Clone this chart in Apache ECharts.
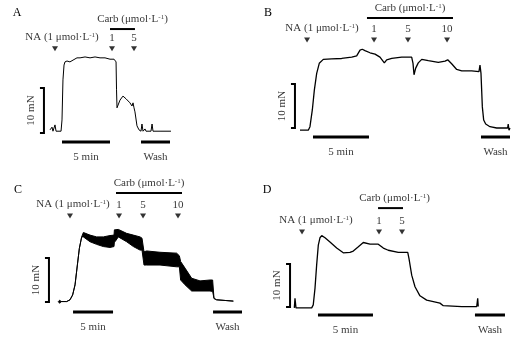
<!DOCTYPE html>
<html>
<head>
<meta charset="utf-8">
<script src="https://cdn.jsdelivr.net/npm/echarts@6/dist/echarts.min.js"></script>
<style>
  html, body { margin: 0; padding: 0; background: #fff; }
  #chart { width: 519px; height: 338px; }
</style>
</head>
<body>
<div id="chart"></div>
<script>
// time in min, tension in mN
const aTime = [0, 0.21, 0.31, 0.52, 0.63, 0.83, 1.15, 1.25, 1.35, 1.46, 1.56, 1.77, 2.08, 2.40, 2.81, 3.13, 3.65, 4.17, 4.69, 5.21, 5.73, 6.25, 6.67, 6.77, 6.88, 6.93, 6.98, 7.08, 7.29, 7.60, 7.92, 8.33, 8.54, 8.65, 8.75, 8.85, 9.06, 9.27, 9.48, 9.58, 9.69, 9.90, 10.0, 10.52, 10.63, 10.73, 11.46, 12.6];
const aForce = [0.7, 1.3, 0.4, 1.8, 0.4, 0.4, 0.4, 2.9, 11.8, 15.1, 15.8, 16.0, 15.8, 16.2, 16.7, 16.7, 16.9, 16.7, 16.9, 16.7, 16.7, 16.4, 16.4, 16.7, 15.8, 9.6, 5.6, 6.0, 7.3, 8.2, 7.6, 6.7, 6.0, 6.7, 5.6, 4.7, 1.6, 0.7, 0.4, 2.0, 0.4, 0.9, 0.4, 0.4, 2.0, 0.4, 0.4, 0.4];
const aDrugs = [0.52, 6.46, 8.75];
const aDoses = ['1', '5'];
const aCarb = [6.25, 8.85];
const aWash = [9.48, 12.5];
const aFiveMin = 1.25;

const bTime = [0, 0.74, 0.89, 1.10, 1.28, 1.49, 1.72, 2.08, 2.83, 3.72, 4.62, 5.06, 5.36, 5.56, 5.80, 6.25, 6.70, 7.14, 7.53, 7.74, 8.19, 9.08, 9.97, 10.09, 10.18, 10.33, 10.56, 10.87, 11.46, 12.35, 12.95, 13.19, 13.54, 13.99, 14.44, 15.33, 15.98, 16.07, 16.16, 16.28, 16.40, 16.58, 16.96, 17.56, 18.54, 18.59, 18.66, 18.75];
const bForce = [-0.5, -0.5, 0.3, 4.1, 8.6, 12.4, 14.7, 15.6, 15.7, 15.8, 16.1, 16.4, 17.7, 17.9, 17.6, 17.1, 16.8, 16.1, 14.8, 15.5, 15.8, 16.1, 16.1, 14.7, 12.1, 13.6, 14.8, 15.6, 15.3, 14.9, 15.2, 15.5, 14.6, 13.3, 13.0, 13.0, 12.8, 14.3, 12.4, 4.8, 1.8, 0.9, 0.3, 0, 0, 0.9, -0.5, 0];
const bDrugs = [0.63, 6.61, 9.64, 13.13];
const bDoses = ['1', '5', '10'];
const bCarb = [5.98, 13.66];
const bWash = [16.16, 18.75];
const bFiveMin = 1.16;

// C is noisy: lower / upper envelope
const cTime = [0.04, 0.2, 0.4, 1.08, 1.5, 1.83, 2.13, 2.42, 2.67, 2.96, 3.17, 4.0, 4.83, 5.67, 6.5, 7.0, 7.05, 7.13, 7.54, 8.58, 9.42, 10.25, 10.5, 10.75, 11.08, 12.75, 14.83, 15.17, 15.33, 15.88, 16.71, 17.75, 19.0, 19.33, 19.5, 19.83, 21.92];
const cLow = [0.1, -0.3, 0.1, 0.1, 0.5, 1.6, 3.9, 8.4, 12.2, 14.8, 14.8, 13.7, 13.1, 12.6, 12.4, 12.6, 13.7, 13.7, 14.8, 13.7, 12.6, 11.8, 11.8, 8.4, 8.4, 8.4, 8.0, 8.0, 5.0, 3.9, 2.5, 2.5, 2.5, 2.4, 0.8, 0.5, 0.2];
const cHigh = [0.1, 0.4, 0.1, 0.1, 0.5, 1.6, 3.9, 8.4, 12.2, 14.8, 15.8, 15.2, 14.8, 14.8, 15.1, 15.2, 16.4, 16.4, 16.5, 15.6, 15.2, 14.8, 14.5, 11.4, 11.6, 11.3, 11.1, 10.5, 9.2, 7.7, 5.4, 4.8, 5.0, 5.0, 0.8, 0.5, 0.2];
const cDrugs = [1.5, 7.63, 10.63, 15.0];
const cDoses = ['1', '5', '10'];
const cCarb = [7.25, 15.5];
const cWash = [19.38, 23.0];
const cFiveMin = 1.88;

const dTime = [0.03, 0.09, 0.18, 1.61, 1.75, 1.91, 2.06, 2.21, 2.36, 2.52, 2.82, 3.27, 3.88, 4.48, 5.09, 5.39, 5.85, 6.30, 6.91, 7.66, 8.12, 8.57, 9.48, 10.34, 10.45, 10.70, 11.0, 11.45, 12.06, 12.97, 13.27, 13.57, 15.25, 16.61, 16.7, 16.75];
const dForce = [-0.2, 2.0, -0.2, -0.2, 0.5, 4.4, 9.8, 14.4, 16.1, 16.6, 16.1, 15.1, 13.7, 12.6, 12.7, 13.0, 14.0, 15.0, 14.6, 14.6, 13.7, 13.2, 12.7, 12.7, 11.3, 7.4, 4.7, 2.6, 1.6, 1.1, 0.9, 0.3, 0.1, 0.1, 2.0, 0.1];
const dDrugs = [0.73, 7.73, 9.82];
const dDoses = ['1', '5'];
const dCarb = [7.64, 9.91];
const dWash = [16.45, 19.18];
const dFiveMin = 2.18;

const scaleForce = 10;
const scaleTime = 5;
const scaleLabels = ['10 mN', '5 min', 'Wash'];

const FONT = '"Liberation Serif", "DejaVu Serif", serif';
const rich = { sup: { fontSize: 7, verticalAlign: 'top', lineHeight: 12, fontFamily: FONT, color: '#000' } };
const NA_TEXT = 'NA (1 μmol·L{sup|-1})';
const CARB_TEXT = 'Carb (μmol·L{sup|-1})';

const panels = [
    { letter: 'A', lx: 17, ly: 13, left: 0, top: 0, width: 259, height: 165, ox: 50, oy: 133, sx: 9.6, sy: 4.5,
      markY: 18.7, carbY: 23.1, barY: -2.0, scaleX: -0.63, naDx: 7, carbDx: 10,
      time: aTime, force: aForce, drugs: aDrugs, doses: aDoses, carb: aCarb, wash: aWash, five: aFiveMin, lw: 1 },
    { letter: 'B', lx: 268, ly: 13, left: 259, top: 0, width: 260, height: 165, ox: 300, oy: 128, sx: 11.2, sy: 4.4,
      markY: 20.0, carbY: 25.0, barY: -2.05, scaleX: -0.45, naDx: 15, carbDx: 0,
      time: bTime, force: bForce, drugs: bDrugs, doses: bDoses, carb: bCarb, wash: bWash, five: bFiveMin, lw: 1.3 },
    { letter: 'C', lx: 18, ly: 190, left: 0, top: 165, width: 259, height: 173, ox: 58, oy: 302, sx: 8, sy: 4.4,
      markY: 19.55, carbY: 24.77, barY: -2.27, scaleX: -1.13, naDx: 3, carbDx: 0,
      time: cTime, low: cLow, high: cHigh, drugs: cDrugs, doses: cDoses, carb: cCarb, wash: cWash, five: cFiveMin, lw: 1 },
    { letter: 'D', lx: 267, ly: 190, left: 259, top: 165, width: 260, height: 173, ox: 294, oy: 307, sx: 11, sy: 4.3,
      markY: 17.44, carbY: 23.0, barY: -1.86, scaleX: -0.36, naDx: 14, carbDx: 4,
      time: dTime, force: dForce, drugs: dDrugs, doses: dDoses, carb: dCarb, wash: dWash, five: dFiveMin, lw: 1.3 }
];

const grid = [], xAxis = [], yAxis = [], series = [], graphic = [];

panels.forEach((p, i) => {
    grid.push({ left: p.left, top: p.top, width: p.width, height: p.height, outerBoundsMode: 'none' });
    xAxis.push({ type: 'value', gridIndex: i, show: false,
        min: (p.left - p.ox) / p.sx, max: (p.left + p.width - p.ox) / p.sx });
    yAxis.push({ type: 'value', gridIndex: i, show: false,
        min: (p.oy - p.top - p.height) / p.sy, max: (p.oy - p.top) / p.sy });

    const base = { xAxisIndex: i, yAxisIndex: i, silent: true, animation: false };
    const black = { color: '#000', width: 1 };

    // tension trace
    if (p.low) {
        series.push(Object.assign({}, base, {
            type: 'custom',
            data: [[0, 0]],
            renderItem: (params, api) => {
                const up = p.time.map((t, k) => api.coord([t, p.high[k]]));
                const dn = p.time.map((t, k) => api.coord([t, p.low[k]])).reverse();
                return { type: 'polygon', shape: { points: up.concat(dn) },
                    style: { fill: '#000', stroke: '#000', lineWidth: 1 } };
            }
        }));
    } else {
        series.push(Object.assign({}, base, {
            type: 'line', showSymbol: false,
            data: p.time.map((t, k) => [t, p.force[k]]),
            lineStyle: { color: '#000', width: p.lw }
        }));
    }

    // 10 mN bracket
    const tk = 4 / p.sx;
    series.push(Object.assign({}, base, {
        type: 'line', showSymbol: false,
        data: [[p.scaleX - tk, 0], [p.scaleX, 0], [p.scaleX, scaleForce], [p.scaleX - tk, scaleForce]],
        lineStyle: { color: '#000', width: 2, join: 'miter' }
    }));
    // 5 min bar, wash bar, carb bar
    [[p.five, p.five + scaleTime, p.barY, 3], [p.wash[0], p.wash[1], p.barY, 3], [p.carb[0], p.carb[1], p.carbY, 2]]
        .forEach(b => {
            series.push(Object.assign({}, base, {
                type: 'line', showSymbol: false,
                data: [[b[0], b[2]], [b[1], b[2]]],
                lineStyle: { color: '#000', width: b[3], cap: 'butt' }
            }));
        });

    // drug triangles with labels
    series.push(Object.assign({}, base, {
        type: 'scatter',
        symbol: 'triangle', symbolRotate: 180, symbolSize: [6, 5],
        itemStyle: { color: '#000' },
        label: { show: true, position: 'top', distance: 3, color: '#000', fontFamily: FONT, fontSize: 11, rich: rich },
        data: p.drugs.map((t, k) => ({
            value: [t, p.markY],
            label: { formatter: k === 0 ? NA_TEXT : p.doses[k - 1], offset: [k === 0 ? p.naDx : 0, 0] }
        }))
    }));

    // text labels
    const lbl = { show: true, color: '#000', fontFamily: FONT, fontSize: 11, rich: rich };
    series.push(Object.assign({}, base, {
        type: 'scatter', symbolSize: 1, itemStyle: { color: 'rgba(0,0,0,0)' },
        data: [
            { value: [p.scaleX - 13 / p.sx, scaleForce / 2],
              label: Object.assign({}, lbl, { formatter: scaleLabels[0], position: 'inside', rotate: 90 }) },
            { value: [p.five + scaleTime / 2, p.barY],
              label: Object.assign({}, lbl, { formatter: scaleLabels[1], position: 'bottom', distance: 9 }) },
            { value: [(p.wash[0] + p.wash[1]) / 2, p.barY],
              label: Object.assign({}, lbl, { formatter: scaleLabels[2], position: 'bottom', distance: 9 }) },
            { value: [(p.carb[0] + p.carb[1]) / 2, p.carbY],
              label: Object.assign({}, lbl, { formatter: CARB_TEXT, position: 'top', distance: 3, offset: [p.carbDx, 0] }) }
        ]
    }));

    graphic.push({ type: 'text', x: p.lx, y: p.ly,
        style: { text: p.letter, fill: '#000', font: '12px ' + FONT, textAlign: 'center', textVerticalAlign: 'middle' } });
});

const chart = echarts.init(document.getElementById('chart'));
chart.setOption({
    backgroundColor: '#fff',
    animation: false,
    grid: grid,
    xAxis: xAxis,
    yAxis: yAxis,
    series: series,
    graphic: graphic
});
</script>
</body>
</html>
